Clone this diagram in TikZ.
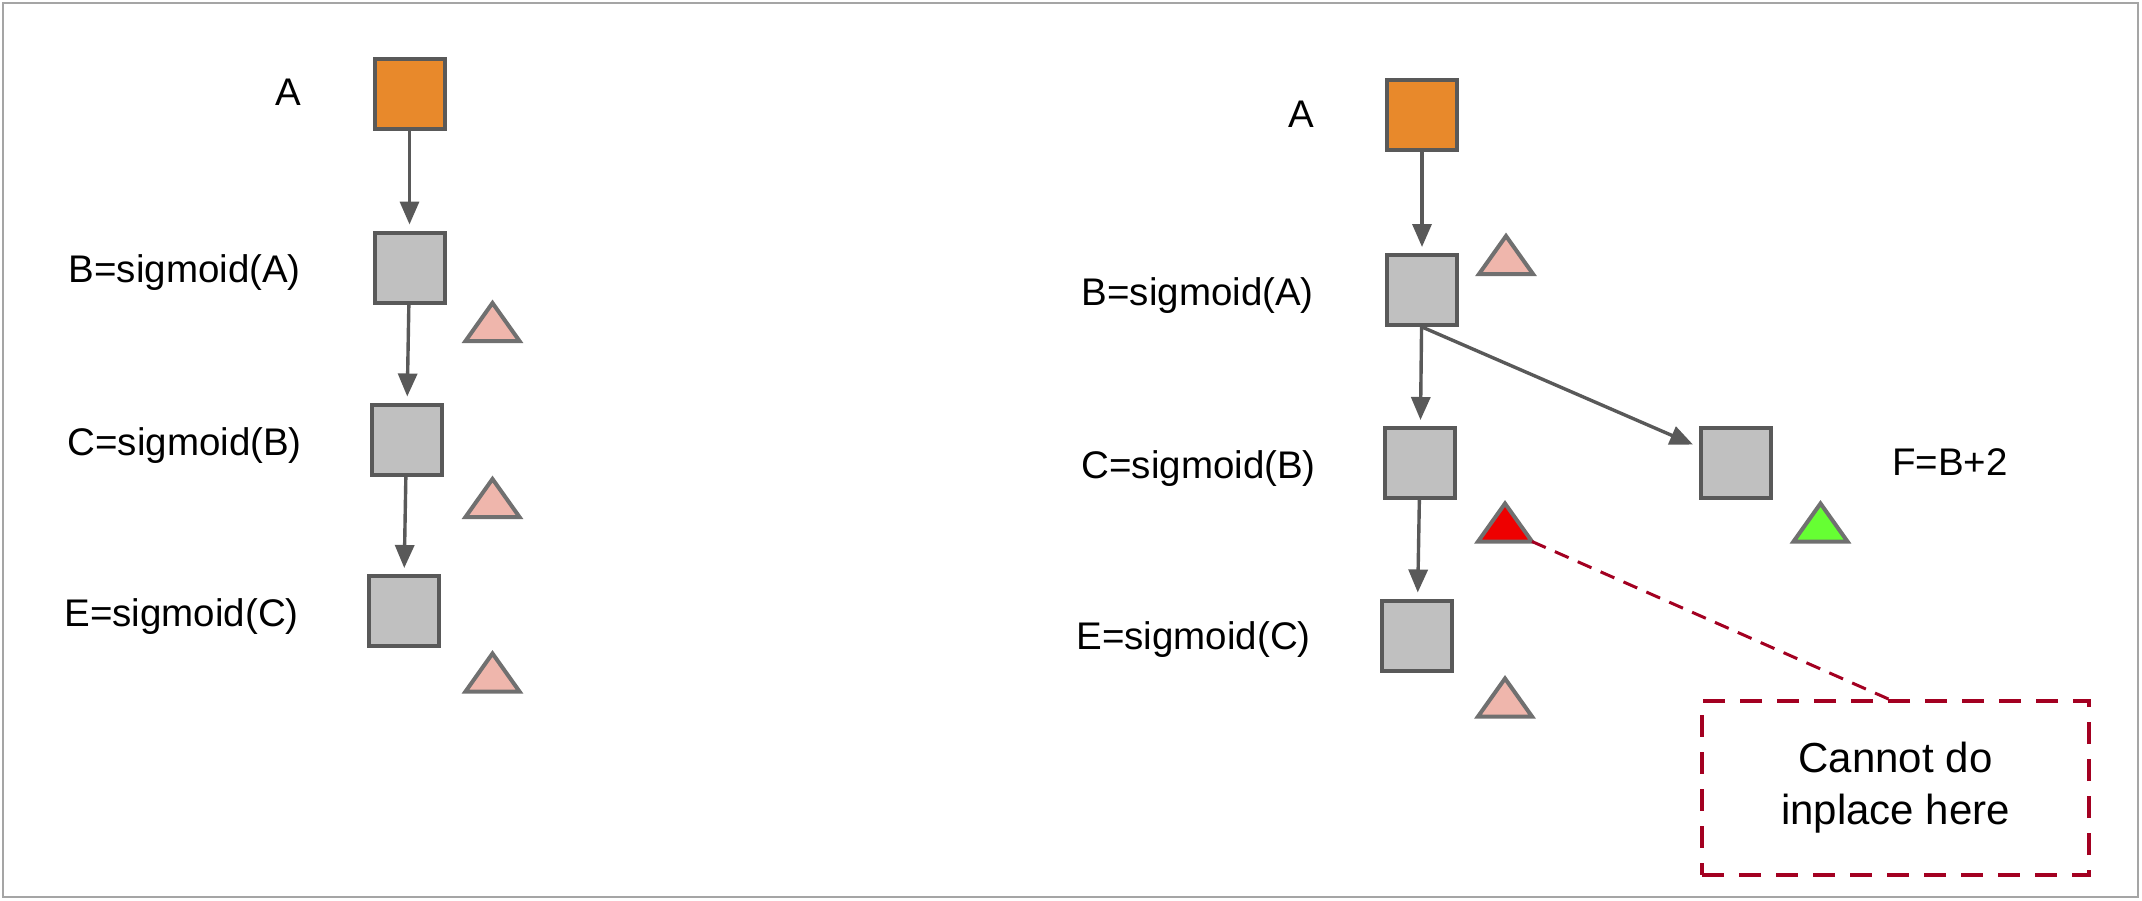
\documentclass[tikz,border=0pt]{standalone}
\usepackage{fontspec}
\setmainfont{Liberation Sans}
\usetikzlibrary{arrows.meta}
\definecolor{orangeF}{RGB}{232,137,43}
\definecolor{grayF}{RGB}{192,192,192}
\definecolor{edgeC}{RGB}{89,89,89}
\definecolor{triE}{RGB}{112,112,112}
\definecolor{pinkF}{RGB}{239,182,172}
\definecolor{redF}{RGB}{238,0,0}
\definecolor{greenF}{RGB}{102,255,51}
\definecolor{noteC}{RGB}{163,0,33}
\definecolor{frameC}{RGB}{165,165,165}
\begin{document}
\begin{tikzpicture}[x=1pt,y=-1pt,
  sq/.style={draw=edgeC, line width=4pt, minimum size=70pt, inner sep=0pt},
  lbl/.style={anchor=base east, font=\fontsize{38.5}{46}\selectfont, inner sep=0pt},
  arr/.style={draw=edgeC, line width=3.4pt, -{Triangle[length=23pt,width=19pt]}, shorten >=6pt},
  tri/.style={draw=triE, line width=4pt},
  note/.style={draw=noteC, line width=4pt, dash pattern=on 22pt off 15pt, minimum width=387pt, minimum height=174pt, align=center, font=\fontsize{42}{52}\selectfont},
  noteline/.style={draw=noteC, line width=3pt, dash pattern=on 15pt off 10pt}
]
\useasboundingbox (0,0) rectangle (2142,900);
\draw[frameC, line width=2pt] (3,3) rectangle (2138,897);

% left column
\node[sq, fill=orangeF] (lA) at (409.5,93.5) {};
\node[sq, fill=grayF] (lB) at (409.5,267.5) {};
\node[sq, fill=grayF] (lC) at (406.5,439.5) {};
\node[sq, fill=grayF] (lE) at (403.5,611) {};
\node[lbl] (tlA) at (301,105) {A};
\node[lbl] (tlB) at (301,282) {B=sigmoid(A)};
\node[lbl] (tlC) at (302,455) {C=sigmoid(B)};
\node[lbl] (tlE) at (299,626) {E=sigmoid(C)};
\draw[arr] (lA) -- (lB);
\draw[arr] (lB) -- (lC);
\draw[arr] (lC) -- (lE);
\draw[tri, fill=pinkF] (492.5,303) -- (519.5,341) -- (465.5,341) -- cycle;
\draw[tri, fill=pinkF] (492.5,479) -- (519.5,517) -- (465.5,517) -- cycle;
\draw[tri, fill=pinkF] (492.5,653.5) -- (519.5,691.5) -- (465.5,691.5) -- cycle;

% right column
\node[sq, fill=orangeF] (rA) at (1422,115) {};
\node[sq, fill=grayF] (rB) at (1422,290) {};
\node[sq, fill=grayF] (rC) at (1420,463) {};
\node[sq, fill=grayF] (rE) at (1417,635.5) {};
\node[sq, fill=grayF] (rF) at (1735.5,463) {};
\node[lbl] (trA) at (1314,127) {A};
\node[lbl] (trB) at (1314,305) {B=sigmoid(A)};
\node[lbl] (trC) at (1316,478) {C=sigmoid(B)};
\node[lbl] (trE) at (1311,649) {E=sigmoid(C)};
\node[anchor=base, font=\fontsize{38.5}{46}\selectfont, inner sep=0pt] (trF) at (1950,475) {F=B+2};
\draw[arr] (rA) -- (rB);
\draw[arr] (rB) -- (rC);
\draw[arr] (rC) -- (rE);
\draw[arr] (rB.south) -- (rF);
\draw[tri, fill=pinkF] (1506,236) -- (1533,274) -- (1479,274) -- cycle;
\draw[tri, fill=redF] (1505,503.5) -- (1532,541.5) coordinate (redc) -- (1478,541.5) -- cycle;
\draw[tri, fill=greenF] (1820.5,503.5) -- (1847.5,541.5) -- (1793.5,541.5) -- cycle;
\draw[tri, fill=pinkF] (1505,678.5) -- (1532,716.5) -- (1478,716.5) -- cycle;

\node[note] (note) at (1895.5,788) {Cannot do\\inplace here};
\draw[noteline] (redc) -- ([xshift=-7pt]note.north);
\end{tikzpicture}
\end{document}
